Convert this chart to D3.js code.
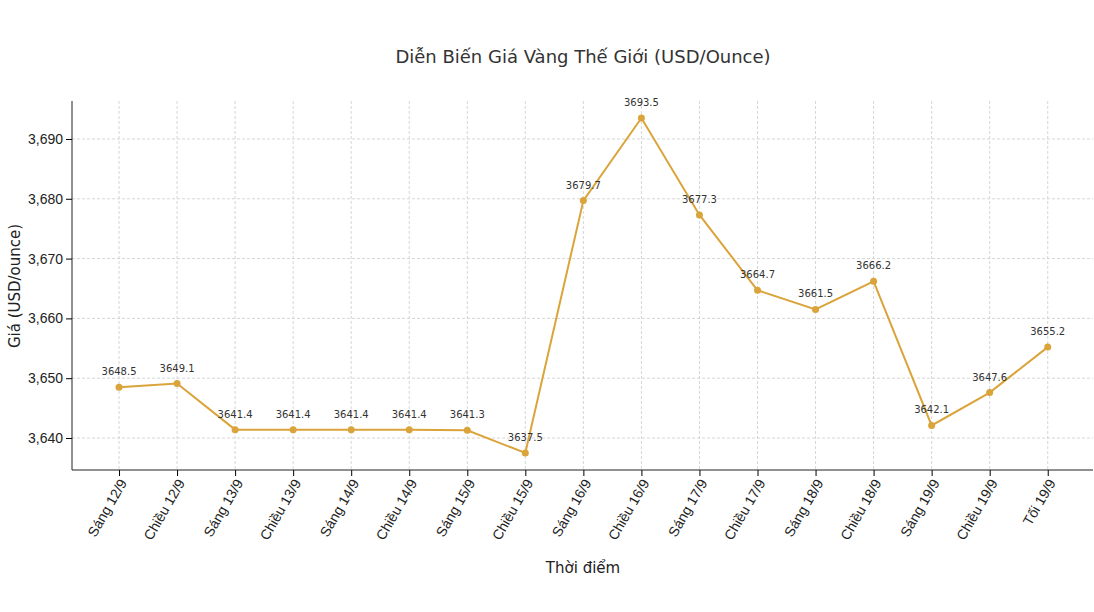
<!DOCTYPE html><html><head><meta charset="utf-8"><script src="https://cdn.jsdelivr.net/npm/d3@7"></script>
<style>body{margin:0;background:#fff;font-family:"DejaVu Sans",sans-serif}</style></head><body><svg id="c" width="1094" height="612"></svg>
<script>
const categories=["Sáng 12/9","Chiều 12/9","Sáng 13/9","Chiều 13/9","Sáng 14/9","Chiều 14/9","Sáng 15/9","Chiều 15/9","Sáng 16/9","Chiều 16/9","Sáng 17/9","Chiều 17/9","Sáng 18/9","Chiều 18/9","Sáng 19/9","Chiều 19/9","Tối 19/9"];
const values=[3648.5,3649.1,3641.4,3641.4,3641.4,3641.4,3641.3,3637.5,3679.7,3693.5,3677.3,3664.7,3661.5,3666.2,3642.1,3647.6,3655.2];
const yTicks=[3640,3650,3660,3670,3680,3690];
const svg=d3.select("#c");
const L=72,R=1093,T=101,B=470,col="#DAA43A";
const x=d3.scaleLinear().domain([-0.81,16.78]).range([L,R]);
const y=d3.scaleLinear().domain([3634.65,3696.35]).range([B,T]);
const g=svg.append("g");
g.selectAll(".gx").data(categories).join("line").attr("x1",(d,i)=>x(i)).attr("x2",(d,i)=>x(i)).attr("y1",T).attr("y2",B).attr("stroke","#ccc").attr("stroke-dasharray","3,2").attr("stroke-width",0.8);
g.selectAll(".gy").data(yTicks).join("line").attr("x1",L).attr("x2",R).attr("y1",d=>y(d)).attr("y2",d=>y(d)).attr("stroke","#ccc").attr("stroke-dasharray","3,2").attr("stroke-width",0.8);
const xa=svg.append("g").attr("transform",`translate(0,${B})`).call(d3.axisBottom(x).tickValues(d3.range(categories.length)).tickFormat(i=>categories[i]).tickSizeOuter(0));
xa.select(".domain").attr("d",`M${L},0H${R}`);
xa.selectAll("text").attr("font-size",14).attr("fill","#222").attr("text-anchor","end").attr("transform","rotate(-60)").attr("dx","-0.5em").attr("dy","0.3em");
const ya=svg.append("g").attr("transform",`translate(${L},0)`).call(d3.axisLeft(y).tickValues(yTicks).tickSizeOuter(0));
ya.select(".domain").attr("d",`M0,${T}V${B}`);
ya.selectAll("text").attr("font-size",14).attr("fill","#222");
svg.selectAll(".domain").attr("stroke","#222");
svg.append("path").datum(values).attr("fill","none").attr("stroke",col).attr("stroke-width",2).attr("d",d3.line().x((d,i)=>x(i)).y(d=>y(d)));
svg.selectAll(".pt").data(values).join("circle").attr("cx",(d,i)=>x(i)).attr("cy",d=>y(d)).attr("r",3.5).attr("fill",col);
svg.selectAll(".lb").data(values).join("text").attr("x",(d,i)=>x(i)).attr("y",d=>y(d)-12).attr("text-anchor","middle").attr("font-size",10).attr("fill","#333").text(d=>d.toFixed(1));
svg.append("text").attr("x",583).attr("y",63).attr("text-anchor","middle").attr("font-size",18).attr("fill","#333").text("Diễn Biến Giá Vàng Thế Giới (USD/Ounce)");
svg.append("text").attr("x",583).attr("y",573).attr("text-anchor","middle").attr("font-size",15).attr("fill","#222").text("Thời điểm");
svg.append("text").attr("transform","translate(20,286) rotate(-90)").attr("text-anchor","middle").attr("font-size",15).attr("fill","#222").text("Giá (USD/ounce)");
</script></body></html>
